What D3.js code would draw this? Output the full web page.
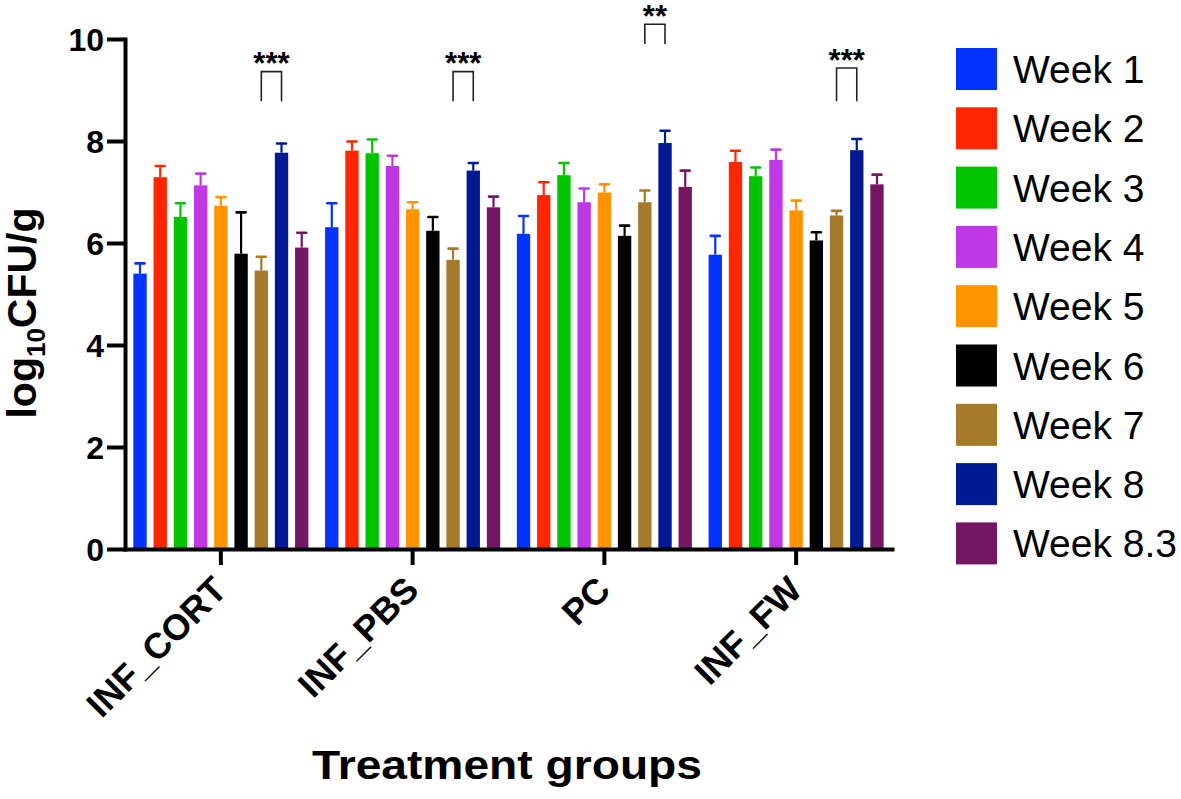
<!DOCTYPE html>
<html>
<head>
<meta charset="utf-8">
<script src="https://cdn.jsdelivr.net/npm/d3@7"></script>
<style>
  html, body { margin: 0; padding: 0; background: #ffffff; }
  svg { display: block; font-family: "Liberation Sans", Arial, Helvetica, sans-serif; }
</style>
</head>
<body>
<script>
// ---------- data ----------
const groups = ["INF_CORT", "INF_PBS", "PC", "INF_FW"];
const weeks = ["Week 1", "Week 2", "Week 3", "Week 4", "Week 5", "Week 6", "Week 7", "Week 8", "Week 8.3"];
const colors = ["#0433FF", "#FF2600", "#00C400", "#BE38E6", "#FF9300", "#000000", "#A67A2B", "#011993", "#741663"];

// means per week (one value per group)
const week1  = [5.40, 6.31, 6.18, 5.77];
const week2  = [7.29, 7.81, 6.94, 7.59];
const week3  = [6.51, 7.76, 7.33, 7.31];
const week4  = [7.13, 7.51, 6.80, 7.63];
const week5  = [6.73, 6.66, 6.99, 6.64];
const week6  = [5.79, 6.24, 6.14, 6.05];
const week7  = [5.46, 5.67, 6.80, 6.54];
const week8  = [7.77, 7.42, 7.96, 7.82];
const week83 = [5.91, 6.70, 7.10, 7.15];

// upper error (SEM) per week
const err1  = [0.20, 0.47, 0.35, 0.37];
const err2  = [0.22, 0.18, 0.25, 0.22];
const err3  = [0.27, 0.27, 0.24, 0.17];
const err4  = [0.23, 0.20, 0.27, 0.20];
const err5  = [0.17, 0.14, 0.16, 0.19];
const err6  = [0.81, 0.27, 0.20, 0.16];
const err7  = [0.27, 0.22, 0.23, 0.09];
const err8  = [0.18, 0.15, 0.24, 0.22];
const err83 = [0.29, 0.21, 0.32, 0.19];

const yTicks = [0, 2, 4, 6, 8, 10];

// significance brackets (Week 7 vs Week 8)
const sigGroups = ["INF_CORT", "INF_PBS", "PC", "INF_FW"];
const sigLabels = ["***", "***", "**", "***"];
const sigTop    = [9.36, 9.36, 10.29, 9.43];
const sigBottom = [8.78, 8.78, 9.90, 8.78];

const means = [week1, week2, week3, week4, week5, week6, week7, week8, week83];
const errs  = [err1, err2, err3, err4, err5, err6, err7, err8, err83];

// ---------- layout ----------
const W = 1181, H = 799;
const svg = d3.select("body").append("svg").attr("width", W).attr("height", H);
svg.append("rect").attr("width", W).attr("height", H).attr("fill", "#fff");

const axisX = 125, axisRight = 892;
const y = d3.scaleLinear().domain([0, 10]).range([549, 39]);
const x0 = d3.scaleBand().domain(groups).range([axisX, axisRight]).paddingInner(0.087).paddingOuter(0.0435);
const x1 = d3.scaleBand().domain(weeks).range([0, x0.bandwidth()]).paddingInner(0.34).paddingOuter(0);

// data rows
const rows = [];
weeks.forEach((w, i) => {
  groups.forEach((g, j) => {
    rows.push({ g, w, i, v: means[i][j], e: errs[i][j] });
  });
});

// bars
const plot = svg.append("g");
plot.selectAll("rect.bar").data(rows).join("rect")
  .attr("class", "bar")
  .attr("x", d => x0(d.g) + x1(d.w))
  .attr("y", d => y(d.v))
  .attr("width", x1.bandwidth())
  .attr("height", d => y(0) - y(d.v))
  .attr("fill", d => colors[d.i]);

// error bars (upper only)
const eb = plot.selectAll("g.err").data(rows).join("g").attr("class", "err");
eb.append("line")
  .attr("x1", d => x0(d.g) + x1(d.w) + x1.bandwidth() / 2)
  .attr("x2", d => x0(d.g) + x1(d.w) + x1.bandwidth() / 2)
  .attr("y1", d => y(d.v))
  .attr("y2", d => y(d.v + d.e))
  .attr("stroke", d => colors[d.i]).attr("stroke-width", 2.2);
eb.append("line")
  .attr("x1", d => x0(d.g) + x1(d.w) + x1.bandwidth() / 2 - 4.5)
  .attr("x2", d => x0(d.g) + x1(d.w) + x1.bandwidth() / 2 + 4.5)
  .attr("y1", d => y(d.v + d.e))
  .attr("y2", d => y(d.v + d.e))
  .attr("stroke", d => colors[d.i]).attr("stroke-width", 2.6).attr("stroke-linecap", "round");

// significance brackets
const cx = (g, w) => x0(g) + x1(w) + x1.bandwidth() / 2;
sigGroups.forEach((g, k) => {
  const xa = cx(g, "Week 7"), xb = cx(g, "Week 8");
  svg.append("path")
    .attr("d", `M${xa},${y(sigBottom[k])}V${y(sigTop[k])}H${xb}V${y(sigBottom[k])}`)
    .attr("fill", "none").attr("stroke", "#222").attr("stroke-width", 1.6);
  svg.append("text")
    .attr("x", (xa + xb) / 2)
    .attr("y", y(sigTop[k]) + 2.5)
    .attr("text-anchor", "middle")
    .attr("font-weight", "bold")
    .attr("font-size", 31)
    .attr("fill", "#000")
    .text(sigLabels[k]);
});

// y axis
const yAxis = svg.append("g").attr("transform", `translate(${axisX},0)`)
  .call(d3.axisLeft(y).tickValues(yTicks).tickSize(18).tickSizeOuter(0).tickPadding(3).tickFormat(d3.format("d")));
yAxis.select(".domain").attr("stroke", "#000").attr("stroke-width", 4).attr("stroke-linecap", "square");
yAxis.selectAll(".tick line").attr("stroke", "#000").attr("stroke-width", 4);
yAxis.selectAll(".tick text").attr("fill", "#000").attr("font-size", 32).attr("font-weight", "bold")
  .attr("font-family", "'Liberation Sans', Arial, sans-serif").attr("dy", "0.36em");

// x axis
const xAxis = svg.append("g").attr("transform", `translate(0,${y(0)})`)
  .call(d3.axisBottom(x0).tickSize(16).tickSizeOuter(0));
xAxis.select(".domain").attr("stroke", "#000").attr("stroke-width", 4).attr("stroke-linecap", "square");
xAxis.selectAll(".tick line").attr("stroke", "#000").attr("stroke-width", 4);
xAxis.selectAll(".tick text")
  .attr("x", 0).attr("y", 0).attr("dy", null)
  .attr("transform", "translate(8,43) rotate(-45)")
  .attr("text-anchor", "end")
  .attr("fill", "#000").attr("font-size", 36).attr("font-weight", "bold")
  .attr("font-family", "'Liberation Sans', Arial, sans-serif");

// axis titles
const yl = svg.append("text")
  .attr("transform", "translate(36,313) rotate(-90)")
  .attr("text-anchor", "middle")
  .attr("font-size", 41).attr("font-weight", "bold").attr("fill", "#000");
yl.append("tspan").text("log");
yl.append("tspan").attr("font-size", 26).attr("dy", 9).text("10");
yl.append("tspan").attr("dy", -9).text("CFU/g");

svg.append("text")
  .attr("x", 507).attr("y", 779)
  .attr("text-anchor", "middle")
  .attr("font-size", 40).attr("font-weight", "bold").attr("fill", "#000")
  .attr("textLength", 390).attr("lengthAdjust", "spacingAndGlyphs")
  .text("Treatment groups");

// legend
const leg = svg.append("g");
weeks.forEach((w, i) => {
  const top = 48 + i * 59.3;
  leg.append("rect").attr("x", 956).attr("y", top).attr("width", 41).attr("height", 42).attr("fill", colors[i]);
  leg.append("text").attr("x", 1013).attr("y", top + 35)
    .attr("font-size", 39).attr("fill", "#000").text(w);
});
</script>
</body>
</html>
